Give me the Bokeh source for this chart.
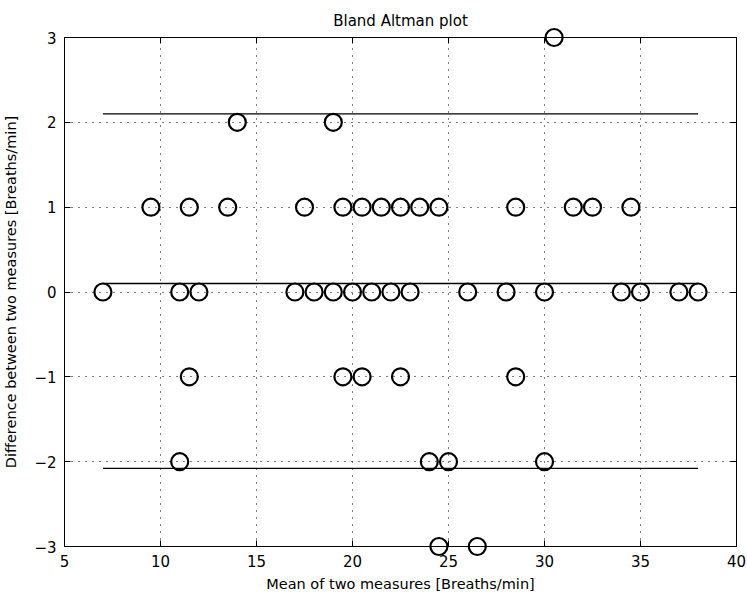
from bokeh.plotting import figure
from bokeh.models import LinearAxis, FixedTicker, Range1d, ColumnDataSource
from bokeh.embed import file_html
from bokeh.resources import INLINE

# ---- data ----
means = [30.5,
         14, 19,
         9.5, 11.5, 13.5, 17.5, 19.5, 20.5, 21.5, 22.5, 23.5, 24.5, 28.5, 31.5, 32.5, 34.5,
         7, 11, 12, 17, 18, 19, 20, 21, 22, 23, 26, 28, 30, 34, 35, 37, 38,
         11.5, 19.5, 20.5, 22.5, 28.5,
         11, 24, 25, 30,
         24.5, 26.5]
diffs = [3,
         2, 2,
         1, 1, 1, 1, 1, 1, 1, 1, 1, 1, 1, 1, 1, 1,
         0, 0, 0, 0, 0, 0, 0, 0, 0, 0, 0, 0, 0, 0, 0, 0, 0,
         -1, -1, -1, -1, -1,
         -2, -2, -2, -2,
         -3, -3]
mean_diff = 0.1
upper_limit = 2.1
lower_limit = -2.08
x_ticks = [5, 10, 15, 20, 25, 30, 35, 40]
y_ticks = [-3, -2, -1, 0, 1, 2, 3]

FONT = "DejaVu Sans"

p = figure(frame_width=672, frame_height=509, output_backend="svg", toolbar_location=None,
           x_range=Range1d(5, 40), y_range=Range1d(-3, 3),
           min_border_left=63, min_border_right=12, min_border_top=37, min_border_bottom=54,
           title="Bland Altman plot")
p.background_fill_color = "white"
p.border_fill_color = "white"
p.outline_line_color = "black"
p.outline_line_width = 1

p.title.align = "center"
p.title.text_font = FONT
p.title.text_font_size = "15px"
p.title.text_font_style = "normal"
p.title.text_color = "black"
p.title.standoff = 16

def style_axis(ax, ticks, show_labels):
    ax.ticker = FixedTicker(ticks=ticks)
    ax.major_tick_in = 6
    ax.major_tick_out = 0
    ax.minor_tick_line_color = None
    ax.axis_line_color = "black"
    ax.major_tick_line_color = "black"
    ax.major_label_text_font = FONT
    ax.major_label_text_font_size = "15px"
    ax.major_label_text_color = "black"
    ax.major_label_standoff = 8
    ax.axis_label_text_font = FONT
    ax.axis_label_text_font_size = "14.5px"
    ax.axis_label_text_font_style = "normal"
    ax.axis_label_text_color = "black"
    if not show_labels:
        ax.major_label_overrides = {t: "" for t in ticks}
        ax.major_label_standoff = 0

style_axis(p.xaxis[0], x_ticks, True)
style_axis(p.yaxis[0], y_ticks, True)
p.xaxis[0].axis_label = "Mean of two measures [Breaths/min]"
p.xaxis[0].axis_label_standoff = 6
p.yaxis[0].axis_label = "Difference between two measures [Breaths/min]"
p.yaxis[0].axis_label_standoff = 12

top_ax = LinearAxis()
right_ax = LinearAxis()
style_axis(top_ax, x_ticks, False)
style_axis(right_ax, y_ticks, False)
p.add_layout(top_ax, "above")
p.add_layout(right_ax, "right")

for g in (p.xgrid[0], p.ygrid[0]):
    g.grid_line_color = "black"
    g.grid_line_dash = "1 6"
    g.grid_line_width = 1
p.xgrid[0].ticker = FixedTicker(ticks=x_ticks)
p.ygrid[0].ticker = FixedTicker(ticks=y_ticks)

x0, x1 = min(means), max(means)
for level in (upper_limit, mean_diff, lower_limit):
    p.line(x=[x0, x1], y=[level, level], line_color="black", line_width=1.3)

src = ColumnDataSource(dict(x=means, y=diffs))
p.scatter(x="x", y="y", source=src, marker="circle", size=17,
          fill_color=None, line_color="black", line_width=2.2, level="overlay")

open("out.html", "w").write(file_html(p, INLINE))
